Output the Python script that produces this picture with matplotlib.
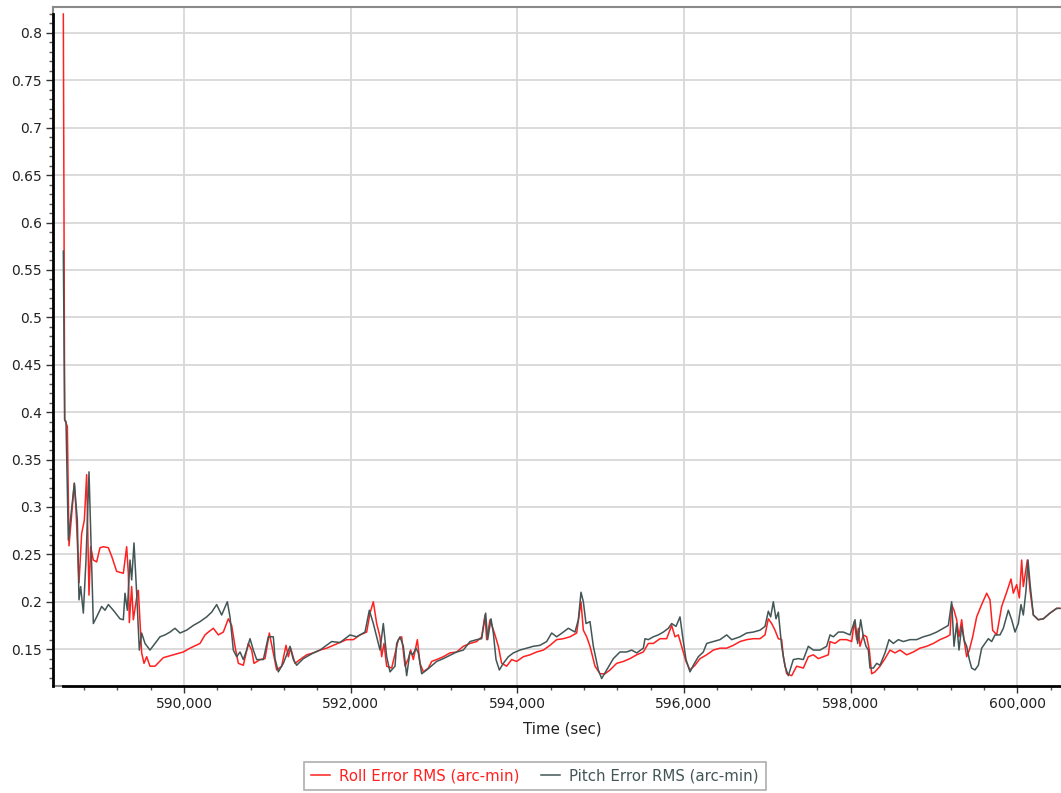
import matplotlib
matplotlib.use('Agg')
import matplotlib.pyplot as plt
from matplotlib.ticker import MultipleLocator, FuncFormatter


# roll error RMS (arc-min) vs time (sec)
roll_t = [588552, 588568, 588600, 588620, 588684, 588704, 588740, 588772, 588804, 588832,
          588860, 588880, 588912, 588952, 588992, 589032, 589092, 589132, 589192, 589272,
          589312, 589332, 589344, 589372, 589392, 589440, 589452, 589492, 589520, 589552,
          589592, 589652, 589752, 589872, 589992, 590072, 590192, 590252, 590292, 590352,
          590412, 590472, 590532, 590572, 590612, 590652, 590712, 590772, 590812, 590840,
          590912, 590972, 591024, 591064, 591112, 591172, 591224, 591252, 591280, 591332,
          591392, 591472, 591552, 591632, 591712, 591792, 591872, 591952, 592032, 592112,
          592192, 592232, 592272, 592312, 592352, 592372, 592400, 592432, 592492, 592572,
          592612, 592652, 592692, 592720, 592752, 592800, 592832, 592872, 592932, 592972,
          593032, 593112, 593192, 593272, 593352, 593432, 593512, 593572, 593612, 593632,
          593672, 593732, 593772, 593812, 593872, 593932, 593992, 594072, 594152, 594232,
          594312, 594392, 594472, 594552, 594632, 594712, 594764, 594792, 594832, 594872,
          594932, 594992, 595052, 595112, 595192, 595272, 595352, 595432, 595512, 595572,
          595632, 595712, 595792, 595852, 595892, 595932, 595972, 596024, 596072, 596132,
          596192, 596272, 596352, 596432, 596512, 596592, 596672, 596752, 596832, 596912,
          596972, 597012, 597052, 597092, 597132, 597172, 597192, 597232, 597292, 597352,
          597432, 597492, 597552, 597612, 597672, 597732, 597752, 597812, 597872, 597952,
          598012, 598044, 598072, 598092, 598112, 598152, 598192, 598224, 598252, 598292,
          598352, 598412, 598472, 598532, 598592, 598672, 598752, 598832, 598912, 598992,
          599072, 599152, 599192, 599212, 599240, 599272, 599300, 599332, 599360, 599392,
          599424, 599464, 599512, 599572, 599632, 599672, 599704, 599752, 599812, 599872,
          599924, 599952, 599992, 600024, 600052, 600072, 600120, 600152, 600192, 600252,
          600312, 600392, 600472, 600512]
roll_rms = [0.820, 0.392, 0.385, 0.259, 0.325, 0.297, 0.220, 0.272, 0.286, 0.334,
            0.207, 0.258, 0.244, 0.242, 0.257, 0.258, 0.257, 0.248, 0.232, 0.230,
            0.258, 0.230, 0.178, 0.216, 0.181, 0.209, 0.212, 0.146, 0.135, 0.142,
            0.132, 0.132, 0.141, 0.144, 0.147, 0.151, 0.156, 0.165, 0.168, 0.172,
            0.165, 0.168, 0.182, 0.175, 0.153, 0.135, 0.133, 0.156, 0.149, 0.135,
            0.139, 0.140, 0.167, 0.149, 0.128, 0.132, 0.154, 0.142, 0.151, 0.135,
            0.139, 0.144, 0.146, 0.149, 0.151, 0.154, 0.157, 0.160, 0.160, 0.165,
            0.168, 0.188, 0.200, 0.177, 0.163, 0.142, 0.156, 0.132, 0.130, 0.160,
            0.163, 0.132, 0.140, 0.149, 0.139, 0.160, 0.135, 0.126, 0.130, 0.137,
            0.139, 0.142, 0.146, 0.147, 0.153, 0.156, 0.158, 0.163, 0.186, 0.160,
            0.181, 0.165, 0.153, 0.135, 0.132, 0.139, 0.137, 0.142, 0.144, 0.147,
            0.149, 0.154, 0.160, 0.161, 0.163, 0.167, 0.200, 0.170, 0.163, 0.153,
            0.132, 0.124, 0.124, 0.128, 0.135, 0.137, 0.140, 0.144, 0.147, 0.156,
            0.156, 0.161, 0.161, 0.175, 0.163, 0.165, 0.153, 0.137, 0.128, 0.133,
            0.140, 0.144, 0.149, 0.151, 0.151, 0.154, 0.158, 0.160, 0.161, 0.161,
            0.165, 0.182, 0.177, 0.170, 0.161, 0.160, 0.142, 0.124, 0.122, 0.132,
            0.130, 0.142, 0.144, 0.140, 0.142, 0.144, 0.158, 0.156, 0.160, 0.160,
            0.158, 0.179, 0.160, 0.172, 0.153, 0.165, 0.163, 0.149, 0.124, 0.126,
            0.132, 0.140, 0.149, 0.146, 0.149, 0.144, 0.147, 0.151, 0.153, 0.156,
            0.160, 0.163, 0.165, 0.197, 0.191, 0.181, 0.163, 0.181, 0.160, 0.142,
            0.149, 0.163, 0.184, 0.197, 0.209, 0.202, 0.170, 0.165, 0.195, 0.210,
            0.224, 0.209, 0.218, 0.204, 0.244, 0.216, 0.244, 0.212, 0.186, 0.181,
            0.182, 0.188, 0.193, 0.193]

# pitch error RMS (arc-min) vs time (sec)
pitch_t = [588552, 588568, 588584, 588612, 588684, 588720, 588740, 588760, 588792, 588824,
           588860, 588912, 588952, 589012, 589052, 589092, 589152, 589232, 589272, 589292,
           589320, 589352, 589372, 589400, 589432, 589464, 589492, 589532, 589592, 589652,
           589712, 589772, 589832, 589892, 589952, 590032, 590112, 590192, 590272, 590332,
           590392, 590452, 590520, 590552, 590592, 590632, 590672, 590712, 590752, 590792,
           590832, 590872, 590952, 591012, 591072, 591092, 591132, 591192, 591232, 591272,
           591312, 591352, 591432, 591552, 591632, 591772, 591872, 591992, 592072, 592172,
           592224, 592272, 592312, 592352, 592392, 592432, 592472, 592532, 592552, 592592,
           592632, 592672, 592712, 592744, 592784, 592812, 592852, 592912, 593032, 593112,
           593272, 593352, 593432, 593512, 593572, 593620, 593644, 593684, 593712, 593744,
           593784, 593832, 593892, 593952, 594032, 594112, 594192, 594272, 594352, 594412,
           594472, 594552, 594612, 594692, 594732, 594764, 594792, 594824, 594872, 594912,
           594972, 595012, 595072, 595152, 595232, 595312, 595372, 595432, 595512, 595532,
           595572, 595632, 595692, 595752, 595812, 595852, 595904, 595952, 595984, 596024,
           596072, 596112, 596172, 596232, 596272, 596352, 596432, 596512, 596572, 596672,
           596752, 596832, 596912, 596972, 597012, 597040, 597072, 597104, 597132, 597172,
           597212, 597252, 597312, 597372, 597432, 597492, 597552, 597632, 597712, 597752,
           597792, 597852, 597912, 597992, 598052, 598084, 598120, 598152, 598184, 598212,
           598232, 598272, 598312, 598352, 598412, 598460, 598512, 598572, 598632, 598712,
           598792, 598872, 598952, 599032, 599112, 599172, 599212, 599240, 599272, 599300,
           599332, 599360, 599392, 599424, 599452, 599492, 599532, 599572, 599612, 599652,
           599692, 599732, 599792, 599832, 599892, 599932, 599972, 600012, 600044, 600072,
           600104, 600128, 600156, 600192, 600252, 600312, 600392, 600472, 600512]
pitch_rms = [0.570, 0.392, 0.390, 0.265, 0.325, 0.286, 0.202, 0.216, 0.188, 0.244,
             0.337, 0.177, 0.184, 0.195, 0.191, 0.197, 0.191, 0.182, 0.181, 0.209,
             0.191, 0.244, 0.223, 0.262, 0.209, 0.149, 0.167, 0.156, 0.149, 0.156,
             0.163, 0.165, 0.168, 0.172, 0.167, 0.170, 0.175, 0.179, 0.184, 0.189,
             0.197, 0.186, 0.200, 0.184, 0.149, 0.142, 0.147, 0.139, 0.149, 0.161,
             0.149, 0.139, 0.139, 0.163, 0.163, 0.140, 0.126, 0.135, 0.144, 0.153,
             0.139, 0.133, 0.140, 0.146, 0.149, 0.158, 0.157, 0.165, 0.163, 0.168,
             0.191, 0.177, 0.163, 0.149, 0.177, 0.142, 0.126, 0.132, 0.156, 0.163,
             0.153, 0.122, 0.147, 0.144, 0.151, 0.146, 0.124, 0.128, 0.137, 0.140,
             0.147, 0.149, 0.158, 0.160, 0.161, 0.188, 0.160, 0.182, 0.167, 0.139,
             0.128, 0.135, 0.142, 0.146, 0.149, 0.151, 0.153, 0.154, 0.158, 0.167,
             0.163, 0.168, 0.172, 0.168, 0.181, 0.210, 0.200, 0.177, 0.179, 0.153,
             0.128, 0.119, 0.128, 0.140, 0.147, 0.147, 0.149, 0.146, 0.151, 0.161,
             0.160, 0.163, 0.165, 0.168, 0.172, 0.177, 0.174, 0.184, 0.163, 0.139,
             0.126, 0.133, 0.142, 0.147, 0.156, 0.158, 0.160, 0.165, 0.160, 0.163,
             0.167, 0.168, 0.170, 0.174, 0.190, 0.184, 0.200, 0.182, 0.189, 0.153,
             0.132, 0.122, 0.139, 0.140, 0.139, 0.153, 0.149, 0.149, 0.153, 0.165,
             0.163, 0.168, 0.168, 0.165, 0.181, 0.156, 0.181, 0.163, 0.153, 0.149,
             0.130, 0.130, 0.135, 0.133, 0.146, 0.160, 0.156, 0.160, 0.158, 0.160,
             0.160, 0.163, 0.165, 0.168, 0.172, 0.175, 0.200, 0.153, 0.177, 0.149,
             0.174, 0.160, 0.153, 0.139, 0.130, 0.128, 0.133, 0.151, 0.156, 0.161,
             0.158, 0.165, 0.165, 0.172, 0.191, 0.181, 0.168, 0.177, 0.197, 0.186,
             0.212, 0.244, 0.216, 0.186, 0.181, 0.182, 0.188, 0.193, 0.193]

ROLL_COLOR = '#ff2020'
PITCH_COLOR = '#435656'
TEXT_COLOR = '#222222'

plt.rcParams['font.family'] = ['DejaVu Sans']

fig = plt.figure(figsize=(10.61, 7.93), dpi=100)
ax = fig.add_axes([53 / 1061, 1 - 686 / 793, 1008 / 1061, 679 / 793])

ax.plot(roll_t, roll_rms, color=ROLL_COLOR, lw=1.1, label='Roll Error RMS (arc-min)', zorder=3)
ax.plot(pitch_t, pitch_rms, color=PITCH_COLOR, lw=1.1, label='Pitch Error RMS (arc-min)', zorder=4)

ax.set_xlim(588428, 600524)
ax.set_ylim(0.1111, 0.8274)

ax.xaxis.set_major_locator(MultipleLocator(2000))
ax.xaxis.set_minor_locator(MultipleLocator(400))
ax.yaxis.set_major_locator(MultipleLocator(0.05))
ax.yaxis.set_minor_locator(MultipleLocator(0.01))
ax.xaxis.set_major_formatter(FuncFormatter(lambda v, p: f'{v:,.0f}'))
ax.yaxis.set_major_formatter(FuncFormatter(lambda v, p: f'{v:.2f}'.rstrip('0').rstrip('.')))

ax.grid(True, which='major', color='#d8d8d8', lw=1.3, zorder=0)
ax.set_axisbelow(True)

ax.tick_params(which='major', length=5, width=1, color='#333333', labelsize=10,
               labelcolor=TEXT_COLOR, pad=3)
ax.tick_params(which='minor', length=3, width=1, color='#555555')

for side in ('left', 'bottom'):
    ax.spines[side].set_color('black')
    ax.spines[side].set_linewidth(2)
ax.spines['left'].set_bounds(0.1111, 0.8200)
ax.spines['bottom'].set_bounds(588550, 600524)
ax.spines['top'].set_color('#8a8a8a')
ax.spines['top'].set_linewidth(1.5)
ax.spines['right'].set_visible(False)

# thin grey frame corner under the axis lines
ax.plot([588428, 588550], [0.1111, 0.1111], color='#8a8a8a', lw=1.5, clip_on=False, zorder=1)
ax.plot([588428, 588428], [0.8200, 0.8274], color='#8a8a8a', lw=1.5, clip_on=False, zorder=1)

ax.set_xlabel('Time (sec)', fontsize=10.8, color=TEXT_COLOR)
ax.xaxis.set_label_coords((562 - 53) / 1008, -(722 - 686) / 679)

leg = fig.legend(loc='center', bbox_to_anchor=(535 / 1061, 1 - 776 / 793), ncol=2,
                 fontsize=10.8, frameon=True, fancybox=False, handlelength=1.3,
                 handletextpad=0.6, columnspacing=1.4, borderpad=0.45, borderaxespad=0)
leg.get_frame().set_edgecolor('#9a9a9a')
leg.get_frame().set_linewidth(1.2)
for txt, col in zip(leg.get_texts(), (ROLL_COLOR, PITCH_COLOR)):
    txt.set_color(col)

fig.savefig('out.png', dpi=100)
